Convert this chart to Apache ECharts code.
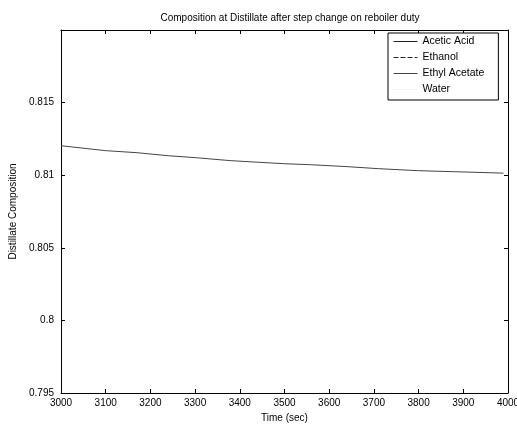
<!DOCTYPE html>
<html>
<head>
<meta charset="utf-8">
<script src="https://cdn.jsdelivr.net/npm/echarts@6/dist/echarts.min.js"></script>
<style>
  html, body { margin: 0; padding: 0; background: #fff; }
  #chart { width: 517px; height: 428px; }
</style>
</head>
<body>
<div id="chart"></div>
<script>
// series names as in the legend
var seriesNames = ['Acetic Acid', 'Ethanol', 'Ethyl Acetate', 'Water'];

// time (sec) and distillate composition
var timeSec = [3000, 3100, 3170, 3240, 3300, 3380, 3500, 3560, 3640, 3710, 3800, 3880, 3960, 3990];
var ethylAcetate = [0.81203, 0.81169, 0.81155, 0.81134, 0.81121, 0.811, 0.81079,
                    0.81072, 0.81059, 0.81045, 0.81031, 0.81024, 0.81017, 0.81014];
// the other three lie outside the plotted range
var aceticAcid = [];
var ethanol = [];
var water = [];

var font = 'Liberation Sans, Arial, sans-serif';

function pairs(xs, ys) {
    var out = [];
    for (var i = 0; i < ys.length; i++) out.push([xs[i], ys[i]]);
    return out;
}

var chart = echarts.init(document.getElementById('chart'));
chart.setOption({
    animation: false,
    backgroundColor: '#fff',
    textStyle: { fontFamily: font, color: '#000' },
    title: {
        text: 'Composition at Distillate after step change on reboiler duty',
        left: 285, top: 8, textAlign: 'center',
        textStyle: { fontSize: 10, fontWeight: 'normal', color: '#000', fontFamily: font }
    },
    legend: {
        orient: 'vertical',
        left: 388, top: 33,
        padding: [3, 14, 5, 5],
        itemWidth: 24, itemHeight: 10, itemGap: 5,
        backgroundColor: '#fff',
        borderColor: '#000', borderWidth: 1,
        itemStyle: { opacity: 0 },
        lineStyle: { width: 1 },
        textStyle: { fontSize: 10.5, color: '#000', fontFamily: font },
        data: seriesNames
    },
    grid: { left: 61, right: 9, top: 30, bottom: 35, outerBoundsMode: 'none' },
    xAxis: [{
        type: 'value', min: 3000, max: 4000, interval: 100,
        name: 'Time (sec)', nameLocation: 'middle', nameGap: 19,
        nameTextStyle: { fontSize: 10, color: '#000', fontFamily: font },
        axisLine: { onZero: false, lineStyle: { color: '#000', width: 1 } },
        axisTick: { inside: true, length: 4, lineStyle: { color: '#000' } },
        axisLabel: { fontSize: 10, color: '#000', margin: 5, fontFamily: font,
            formatter: function (v) { return String(v); } },
        splitLine: { show: false }
    }, {
        type: 'value', min: 3000, max: 4000, interval: 100, position: 'top',
        axisLine: { onZero: false, lineStyle: { color: '#000', width: 1 } },
        axisTick: { inside: true, length: 4, lineStyle: { color: '#000' } },
        axisLabel: { show: false },
        splitLine: { show: false }
    }],
    yAxis: [{
        type: 'value', min: 0.795, max: 0.82, interval: 0.005,
        name: 'Distillate Composition', nameLocation: 'middle', nameGap: 42,
        nameTextStyle: { fontSize: 10, color: '#000', fontFamily: font },
        axisLine: { show: true, onZero: false, lineStyle: { color: '#000', width: 1 } },
        axisTick: { show: true, inside: true, length: 4, lineStyle: { color: '#000' } },
        axisLabel: { fontSize: 10, color: '#000', margin: 7, showMaxLabel: false, fontFamily: font },
        splitLine: { show: false }
    }, {
        type: 'value', min: 0.795, max: 0.82, interval: 0.005, position: 'right',
        axisLine: { show: true, onZero: false, lineStyle: { color: '#000', width: 1 } },
        axisTick: { show: true, inside: true, length: 4, lineStyle: { color: '#000' } },
        axisLabel: { show: false },
        splitLine: { show: false }
    }],
    series: [{
        name: seriesNames[0], type: 'line', symbol: 'none',
        lineStyle: { color: '#222', width: 1, type: 'solid' },
        itemStyle: { color: '#222' },
        data: pairs(timeSec, aceticAcid)
    }, {
        name: seriesNames[1], type: 'line', symbol: 'none',
        lineStyle: { color: '#222', width: 1, type: [5, 2] },
        itemStyle: { color: '#222' },
        data: pairs(timeSec, ethanol)
    }, {
        name: seriesNames[2], type: 'line', symbol: 'none',
        lineStyle: { color: '#444', width: 1, type: 'solid' },
        itemStyle: { color: '#444' },
        data: pairs(timeSec, ethylAcetate)
    }, {
        name: seriesNames[3], type: 'line', symbol: 'none',
        lineStyle: { color: '#e6e6e6', width: 1, type: 'dotted' },
        itemStyle: { color: '#e6e6e6' },
        data: pairs(timeSec, water)
    }]
});
</script>
</body>
</html>
